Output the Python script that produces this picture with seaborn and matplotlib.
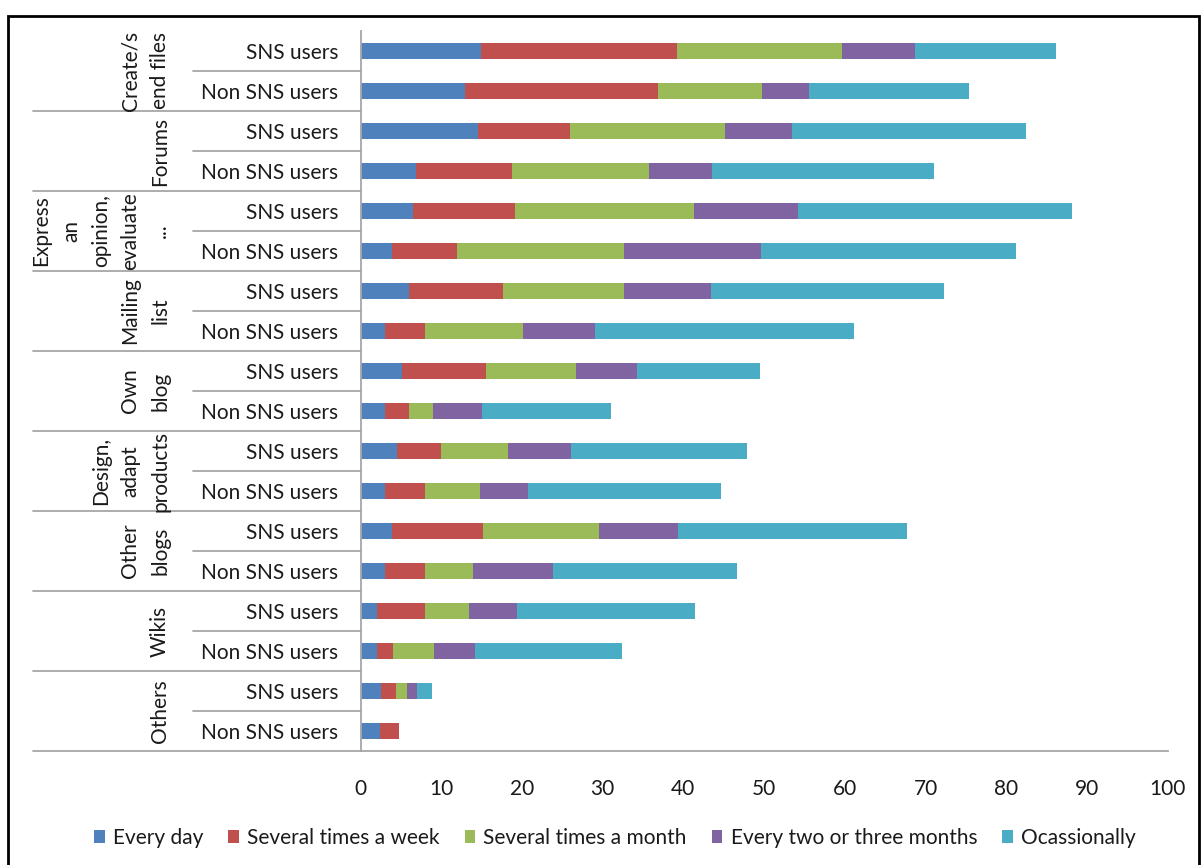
import matplotlib
matplotlib.use("Agg")
import matplotlib.pyplot as plt
import seaborn as sns
import pandas as pd
import numpy as np
from matplotlib.patches import Patch, Rectangle

# ---- data -------------------------------------------------------------
activities = [
    "Create/s\nend files",
    "Forums",
    "Express\nan\nopinion,\nevaluate\n...",
    "Mailing\nlist",
    "Own\nblog",
    "Design,\nadapt\nproducts",
    "Other\nblogs",
    "Wikis",
    "Others",
]
user_types = ["SNS users", "Non SNS users"]
series_names = ["Every day", "Several times a week", "Several times a month",
                "Every two or three months", "Ocassionally"]

# one value per row: (activity, SNS users), (activity, Non SNS users), ...
every_day = [14.9, 12.9, 14.5, 6.9, 6.5, 3.9, 6.0, 3.0, 5.1, 3.0,
             4.5, 3.0, 3.9, 3.0, 2.0, 2.0, 2.5, 2.4]
several_week = [24.3, 23.9, 11.5, 11.9, 12.6, 8.1, 11.6, 5.0, 10.5, 3.0,
                5.5, 5.0, 11.3, 5.0, 6.0, 2.0, 1.9, 2.4]
several_month = [20.5, 13.0, 19.1, 16.9, 22.2, 20.7, 15.1, 12.1, 11.1, 3.0,
                 8.3, 6.8, 14.3, 5.9, 5.4, 5.1, 1.4, 0.0]
two_three_months = [9.0, 5.8, 8.4, 7.8, 12.9, 16.9, 10.7, 9.0, 7.6, 6.1,
                    7.8, 6.0, 9.8, 10.0, 6.0, 5.1, 1.2, 0.0]
occasionally = [17.5, 19.8, 28.9, 27.6, 34.0, 31.6, 28.9, 32.0, 15.2, 15.9,
                21.8, 23.9, 28.4, 22.7, 22.0, 18.2, 1.9, 0.0]

colors = ["#4F81BD", "#C0504D", "#9BBB59", "#8064A2", "#4BACC6"]
x_ticks = list(range(0, 101, 10))

# ---- style ------------------------------------------------------------
sns.set_style("white")
plt.rcParams["font.family"] = ["Lato", "DejaVu Sans"]
FS = 15
GRID = "#A6A6A6"
TXT = "#1a1a1a"

W, H = 1203, 865
fig = plt.figure(figsize=(W / 100, H / 100), dpi=100)
x0, x1 = 360.5, 1167.7
y_top, y_bot = 31, 751
ax = fig.add_axes([x0 / W, 1 - y_bot / H, (x1 - x0) / W, (y_bot - y_top) / H])

rows = [f"{a}|{u}" for a in activities for u in user_types]
row_labels = [u for a in activities for u in user_types]

series = np.array([every_day, several_week, several_month,
                   two_three_months, occasionally])
cum = np.cumsum(series, axis=0)

# stacked bars: draw cumulative totals from the last segment to the first
for k in reversed(range(len(series_names))):
    d = pd.DataFrame({"row": rows, "value": cum[k]})
    sns.barplot(data=d, x="value", y="row", order=rows, orient="h",
                color=colors[k], saturation=1, width=0.38, errorbar=None,
                linewidth=0, ax=ax)

ax.set_xlim(0, 100)
ax.set_ylim(len(rows) - 0.5, -0.5)
ax.set_xticks(x_ticks)
ax.set_xticklabels([str(t) for t in x_ticks])
ax.set_yticks(range(len(rows)))
ax.set_yticklabels(row_labels)
ax.set_xlabel("")
ax.set_ylabel("")

for s in ["top", "right"]:
    ax.spines[s].set_visible(False)
for s in ["left", "bottom"]:
    ax.spines[s].set_color(GRID)
    ax.spines[s].set_linewidth(1.3)

ax.tick_params(axis="x", direction="out", length=6, width=1.2, color=GRID,
               pad=14, labelsize=FS, labelcolor=TXT)
ax.tick_params(axis="y", length=0, pad=16, labelsize=FS, labelcolor=TXT)

# category separators and group labels on the left
ytr = ax.get_yaxis_transform()
px = lambda p: (p - x0) / (x1 - x0)
for g, name in enumerate(activities):
    ax.plot([px(33), 0], [2 * g + 1.5] * 2, transform=ytr, clip_on=False,
            color=GRID, lw=1.3)
    ax.plot([px(193), 0], [2 * g + 0.5] * 2, transform=ytr, clip_on=False,
            color=GRID, lw=1.3)
    ax.text(px(170), 2 * g + 0.5, name, transform=ytr, rotation=90,
            ha="right", va="center", multialignment="center",
            fontsize=FS, linespacing=1.6, color=TXT)

# legend
handles = [Patch(facecolor=c, edgecolor="none") for c in colors]
fig.legend(handles, series_names, loc="center",
           bbox_to_anchor=(615 / W, 1 - 838 / H), ncol=5, frameon=False,
           fontsize=FS, handlelength=0.5, handleheight=0.6,
           handletextpad=0.4, columnspacing=1.2, labelcolor=TXT)

# outer frame
fig.add_artist(Rectangle((8 / W, -0.02), (1199 - 8) / W, 1.02 - 16 / H,
                         transform=fig.transFigure, fill=False,
                         edgecolor="black", lw=2))

fig.savefig("out.png", dpi=100)
